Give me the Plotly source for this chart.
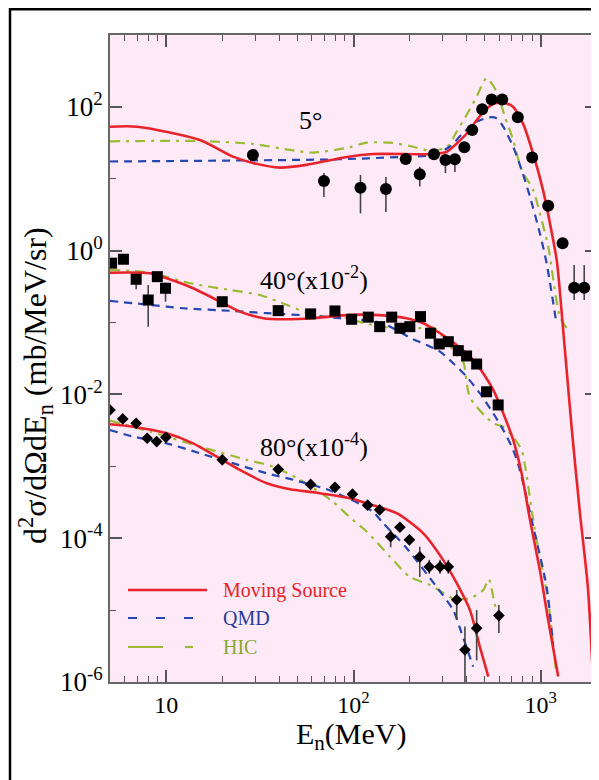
import plotly.graph_objects as go

# ---------------- data ----------------
# 5 deg data (circles)
E5 = [29, 69.5, 109, 149, 190, 226, 269, 310, 348, 391, 431, 487, 547, 623, 755, 901, 1097, 1310, 1510, 1709]
V5 = [21.4, 9.3, 7.5, 7.2, 18.8, 11.6, 21.9, 18.3, 18.7, 27.4, 47.7, 92.6, 127, 127, 71.7, 19.7, 4.2, 1.27, 0.305, 0.305]
V5_lo = [21.4, 5.6, 3.3, 3.45, 18.8, 7.8, 21.9, 12.0, 12.4, 27.4, 47.7, 92.6, 127, 127, 71.7, 19.7, 4.2, 1.27, 0.206, 0.206]
V5_hi = [21.4, 12.0, 11.3, 10.6, 18.8, 14.7, 21.9, 22.0, 22.0, 27.4, 47.7, 92.6, 127, 127, 71.7, 19.7, 4.2, 1.27, 0.63, 0.63]

# 40 deg data (x1e-2, squares)
E40 = [5.1, 5.9, 6.9, 8.0, 8.95, 9.9, 19.9, 39.6, 59, 79.6, 97.7, 120, 138, 160, 177, 200, 228, 258, 287, 321, 363, 402, 455, 514, 593]
V40 = [0.67, 0.76, 0.40, 0.206, 0.435, 0.30, 0.195, 0.1465, 0.132, 0.145, 0.111, 0.119, 0.0877, 0.119, 0.0833,
       0.0877, 0.121, 0.071, 0.0504, 0.0542, 0.0407, 0.0343, 0.0265, 0.0109, 0.00714]
V40_lo = [0.67, 0.76, 0.29, 0.0877, 0.435, 0.195, 0.195, 0.1465, 0.132, 0.145, 0.111, 0.119, 0.0877, 0.119, 0.0833,
          0.0877, 0.121, 0.071, 0.0504, 0.0542, 0.0407, 0.0343, 0.0265, 0.0109, 0.00714]
V40_hi = [0.67, 0.76, 0.40, 0.333, 0.50, 0.36, 0.195, 0.1465, 0.132, 0.145, 0.111, 0.119, 0.0877, 0.119, 0.0833,
          0.0877, 0.121, 0.071, 0.0504, 0.0542, 0.0407, 0.0343, 0.0265, 0.0109, 0.00714]

# 80 deg data (x1e-4, diamonds)
E80 = [5.0, 5.85, 6.9, 7.9, 8.88, 9.95, 19.9, 39.6, 59, 79.6, 98.7, 119, 138, 158, 177, 199, 226, 254, 290, 321, 356, 394, 455, 598]
V80 = [0.00608, 0.00456, 0.00397, 0.00246, 0.00221, 0.00254, 0.00123, 9.1e-4, 5.6e-4, 5.1e-4, 4.1e-4, 2.88e-4,
       2.48e-4, 1.05e-4, 1.42e-4, 9.5e-5, 5.5e-5, 4.0e-5, 4.0e-5, 4.0e-5, 1.39e-5, 2.8e-6, 5.6e-6, 8.4e-6]
V80_lo = [0.00608, 0.00456, 0.00397, 0.00246, 0.00221, 0.00254, 0.00123, 9.1e-4, 5.6e-4, 5.1e-4, 4.1e-4, 2.88e-4,
          2.48e-4, 7.5e-5, 1.42e-4, 9.5e-5, 2.9e-5, 3.2e-5, 3.2e-5, 3.2e-5, 7.3e-6, 1.0e-6, 2.0e-6, 4.8e-6]
V80_hi = [0.00608, 0.00456, 0.00397, 0.00246, 0.00221, 0.00254, 0.00123, 9.1e-4, 5.6e-4, 5.1e-4, 4.1e-4, 2.88e-4,
          2.48e-4, 1.3e-4, 1.42e-4, 9.5e-5, 7.6e-5, 5.0e-5, 5.0e-5, 5.0e-5, 1.9e-5, 5.9e-6, 1.0e-5, 1.18e-5]

# Moving Source curves
MS5_E = [5.0, 7.0, 15.1, 22.7, 29, 40.5, 56, 92, 127, 265, 316, 357, 404, 456, 516, 570, 629, 711, 804, 910,
         1029, 1148, 1222, 1315, 1463, 1621, 1787, 1901]
MS5_V = [53, 53, 34.7, 20.3, 16.6, 14.3, 15.6, 20.1, 22.1, 22.1, 23.8, 31.2, 43, 65.7, 95.7, 112, 114, 100.7, 59,
         22.6, 7.0, 1.75, 0.70, 0.087, 0.00353, 2.25e-4, 2.1e-5, 1.18e-6]
MS40_E = [5.0, 8.2, 10.05, 13.9, 18.6, 24.7, 33, 42.2, 61, 95.7, 127, 192, 236, 290, 356, 436, 493, 558, 631,
          713, 791, 877, 990, 1097, 1241]
MS40_V = [0.494, 0.485, 0.413, 0.30, 0.206, 0.142, 0.115, 0.111, 0.115, 0.128, 0.128, 0.115, 0.0977, 0.071,
          0.0488, 0.0302, 0.0197, 0.01155, 0.00547, 0.00233, 8.0e-4, 1.8e-4, 3.6e-5, 7.3e-6, 1.19e-6]
MS80_E = [5.0, 6.66, 10.05, 13.9, 18.6, 24.7, 34.4, 45.8, 63.6, 95.7, 117.5, 170, 236, 301, 356, 419, 473, 525]
MS80_V = [0.00385, 0.00356, 0.00288, 0.00209, 0.00136, 8.9e-4, 5.8e-4, 4.8e-4, 4.3e-4, 3.6e-4, 3.07e-4, 2.23e-4,
          1.17e-4, 5.0e-5, 2.37e-5, 1.0e-5, 3.1e-6, 1.19e-6]

# QMD curves
QMD5_E = [5.0, 84.7, 192, 265, 327, 385, 455, 536, 582, 631, 713, 791, 877, 990, 1076, 1206]
QMD5_V = [17.4, 18.7, 20.3, 21.4, 27.9, 43.4, 62.3, 71.7, 69.3, 53, 27.9, 13.3, 5.6, 1.75, 0.67, 0.109]
QMD40_E = [5.0, 8.2, 12.3, 22.8, 34.4, 61, 84.7, 141, 208, 246, 290, 341, 402, 473, 558, 631, 713, 774, 912,
           1076, 1167]
QMD40_V = [0.20, 0.176, 0.158, 0.145, 0.135, 0.124, 0.115, 0.0987, 0.0586, 0.0488, 0.0394, 0.0272, 0.0177,
           0.0104, 0.00547, 0.0032, 0.00169, 8.9e-4, 1.45e-4, 2.1e-5, 3.1e-6]
QMD80_E = [5.0, 6.66, 10.05, 15.1, 22.8, 34.4, 47.6, 71.9, 95.7, 127, 144, 192, 278, 341, 378, 436]
QMD80_V = [0.0032, 0.00259, 0.00209, 0.00152, 0.0011, 8.0e-4, 6.5e-4, 4.8e-4, 3.5e-4, 2.34e-4, 1.62e-4, 7.3e-5,
           2.1e-5, 1.0e-5, 4.8e-6, 1.64e-6]

# HIC curves
HIC5_E = [5.0, 15.1, 29, 45.8, 60.7, 95.7, 117.5, 157, 200, 256, 315, 356, 402, 455, 514, 582, 644, 713, 791,
          912, 990, 1097, 1267, 1376]
HIC5_V = [33.2, 33.5, 30.5, 25.2, 23.1, 27.4, 31.8, 31.8, 28.6, 24.6, 27.4, 45.2, 77.2, 139, 250, 163, 73, 34.7,
          13.3, 7.0, 3.3, 1.14, 0.121, 0.084]
HIC40_E = [5.0, 8.2, 13.4, 21.9, 31.6, 44, 61, 91.8, 115, 192, 267, 356, 386, 419, 558, 631, 700, 791, 824, 931,
           1094, 1206]
HIC40_V = [0.54, 0.494, 0.352, 0.284, 0.242, 0.176, 0.128, 0.115, 0.0977, 0.0789, 0.085, 0.0354, 0.0283, 0.00908,
           0.00397, 0.00356, 0.00273, 0.00169, 0.00104, 1.3e-4, 1.39e-5, 1.47e-6]
HIC80_E = [5.0, 8.2, 15.1, 26.9, 37.2, 51.7, 78, 95.7, 117.5, 157, 200, 256, 341, 419, 493, 529, 562, 584]
HIC80_V = [0.00432, 0.00304, 0.00188, 0.00123, 9.9e-4, 6.5e-4, 3.2e-4, 1.95e-4, 1.24e-4, 5.5e-5, 2.9e-5, 2.24e-5,
           1.46e-5, 1.46e-5, 1.9e-5, 2.7e-5, 1.39e-5, 9.4e-6]

# tick labels
X_TICKS = [10, 100, 1000]
X_TICKTEXT = ["10", "10<sup>2</sup>", "10<sup>3</sup>"]
Y_TICKS = [1e-6, 1e-4, 1e-2, 1, 1e2]
Y_TICKTEXT = ["10<sup>-6</sup>", "10<sup>-4</sup>", "10<sup>-2</sup>", "10<sup>0</sup>", "10<sup>2</sup>"]
Y_MINOR = [1e-5, 1e-3, 1e-1, 10, 1e3]
X_MINOR = [6, 7, 8, 9, 20, 30, 40, 50, 60, 70, 80, 90, 200, 300, 400, 500, 600, 700, 800, 900, 2000]

ANGLE_LABELS = ["5°", "40°(x10<sup>-2</sup>)", "80°(x10<sup>-4</sup>)"]
LEGEND_NAMES = ["Moving Source", "QMD", "HIC"]

# ---------------- styling ----------------
RED = "#e8232b"
BLUE = "#2646b0"
GREEN = "#9bbb35"
SERIF = "Liberation Serif, Times New Roman, serif"

# page body adds an 8px offset; the figure is sized so the screenshot coordinates match
OFF = 8
W, H = 599 - OFF, 780 - OFF
PL, PR, PT, PB = 110, 597, 35, 682          # plot area in screenshot pixels
L, T = PL - OFF, PT - OFF
R, B = W - (PR - OFF), H - (PB - OFF)
PW, PH = PR - PL, PB - PT


def px(x):
    return (x - PL) / PW


def py(y):
    return (PB - y) / PH


fig = go.Figure()

curve_sets = [
    (MS5_E, MS5_V, RED, "solid", 2.6, LEGEND_NAMES[0]),
    (MS40_E, MS40_V, RED, "solid", 2.6, LEGEND_NAMES[0]),
    (MS80_E, MS80_V, RED, "solid", 2.6, LEGEND_NAMES[0]),
    (QMD5_E, QMD5_V, BLUE, "8px,6px", 2.2, LEGEND_NAMES[1]),
    (QMD40_E, QMD40_V, BLUE, "8px,6px", 2.2, LEGEND_NAMES[1]),
    (QMD80_E, QMD80_V, BLUE, "8px,6px", 2.2, LEGEND_NAMES[1]),
    (HIC5_E, HIC5_V, GREEN, "10px,6px,3px,6px", 2.2, LEGEND_NAMES[2]),
    (HIC40_E, HIC40_V, GREEN, "10px,6px,3px,6px", 2.2, LEGEND_NAMES[2]),
    (HIC80_E, HIC80_V, GREEN, "10px,6px,3px,6px", 2.2, LEGEND_NAMES[2]),
]
# draw HIC and QMD first, red on top
for xs, ys, col, dash, w, name in curve_sets[6:] + curve_sets[3:6] + curve_sets[:3]:
    fig.add_trace(go.Scatter(x=xs, y=ys, mode="lines", name=name, showlegend=False,
                             line=dict(color=col, dash=dash, width=w, shape="spline", smoothing=0.7),
                             hoverinfo="skip"))


def err(v, lo, hi):
    return dict(type="data", symmetric=False,
                array=[h - a for a, h in zip(v, hi)],
                arrayminus=[a - l for a, l in zip(v, lo)],
                color="#444", thickness=1.6, width=0)


fig.add_trace(go.Scatter(x=E5, y=V5, mode="markers", showlegend=False, name="5°",
                         marker=dict(symbol="circle", size=12, color="black"),
                         error_y=err(V5, V5_lo, V5_hi)))
fig.add_trace(go.Scatter(x=E40, y=V40, mode="markers", showlegend=False, name="40°",
                         marker=dict(symbol="square", size=11, color="black"),
                         error_y=err(V40, V40_lo, V40_hi)))
fig.add_trace(go.Scatter(x=E80, y=V80, mode="markers", showlegend=False, name="80°",
                         marker=dict(symbol="diamond", size=9, color="black"),
                         error_y=err(V80, V80_lo, V80_hi)))

axis_common = dict(type="log", showline=True, linecolor="#666", linewidth=1.6, mirror="allticks",
                   ticks="inside", ticklen=12, tickwidth=1.5, tickcolor="#555", showgrid=False,
                   zeroline=False, tickfont=dict(family=SERIF, size=24, color="black"))

fig.update_xaxes(**axis_common, range=[0.699, 3.301], tickmode="array", tickvals=X_TICKS,
                 ticktext=X_TICKTEXT,
                 minor=dict(ticks="inside", ticklen=6, tickwidth=1.3, tickcolor="#555",
                            tickmode="array", tickvals=X_MINOR, showgrid=False))
fig.update_yaxes(**{**axis_common, "tickfont": dict(family=SERIF, size=27, color="black")},
                 range=[-6, 3], tickmode="array", tickvals=Y_TICKS, ticktext=Y_TICKTEXT,
                 minor=dict(ticks="inside", ticklen=6, tickwidth=1.3, tickcolor="#555",
                            tickmode="array", tickvals=Y_MINOR, showgrid=False))

annotations = [
    dict(x=px(310), y=py(120), text=ANGLE_LABELS[0], font=dict(size=26)),
    dict(x=px(314), y=py(278), text=ANGLE_LABELS[1], font=dict(size=26)),
    dict(x=px(314), y=py(445), text=ANGLE_LABELS[2], font=dict(size=26)),
    dict(x=px(221), y=py(590), text=LEGEND_NAMES[0], xanchor="left", font=dict(size=20, color=RED)),
    dict(x=px(221), y=py(618), text=LEGEND_NAMES[1], xanchor="left", font=dict(size=20, color="#2b3a9a")),
    dict(x=px(221), y=py(647), text=LEGEND_NAMES[2], xanchor="left", font=dict(size=20, color="#8aa82e")),
    dict(x=px(351), y=py(736), text="E<sub>n</sub>(MeV)", font=dict(size=30)),
    dict(x=px(36), y=py(386), text="d<sup>2</sup>σ/dΩdE<sub>n</sub> (mb/MeV/sr)", textangle=-90,
         font=dict(size=32)),
]
for a in annotations:
    a.setdefault("xanchor", "center")
    a.update(xref="paper", yref="paper", yanchor="middle", showarrow=False)
    a["font"] = dict(family=SERIF, color=a["font"].get("color", "black"), size=a["font"]["size"])

shapes = [
    # outer frame (top edge as high as the page allows)
    dict(type="rect", xref="paper", yref="paper", x0=px(10), x1=px(640), y0=py(820), y1=py(9.2),
         line=dict(color="black", width=2.5), fillcolor="rgba(0,0,0,0)"),
    # legend samples
    dict(type="line", xref="paper", yref="paper", x0=px(128), x1=px(207), y0=py(590), y1=py(590),
         line=dict(color=RED, width=2.6)),
    dict(type="line", xref="paper", yref="paper", x0=px(128), x1=px(193), y0=py(618), y1=py(618),
         line=dict(color=BLUE, width=2.2, dash="9px,19px")),
    dict(type="line", xref="paper", yref="paper", x0=px(128), x1=px(163), y0=py(647), y1=py(647),
         line=dict(color=GREEN, width=2.2)),
    dict(type="line", xref="paper", yref="paper", x0=px(185), x1=px(193), y0=py(647), y1=py(647),
         line=dict(color=GREEN, width=2.2)),
]

fig.update_layout(width=W, height=H, margin=dict(l=L, r=R, t=T, b=B, autoexpand=False),
                  paper_bgcolor="white", plot_bgcolor="#fdeaf6", showlegend=False,
                  annotations=annotations, shapes=shapes,
                  font=dict(family=SERIF, color="black"))

fig.write_html("out.html")
